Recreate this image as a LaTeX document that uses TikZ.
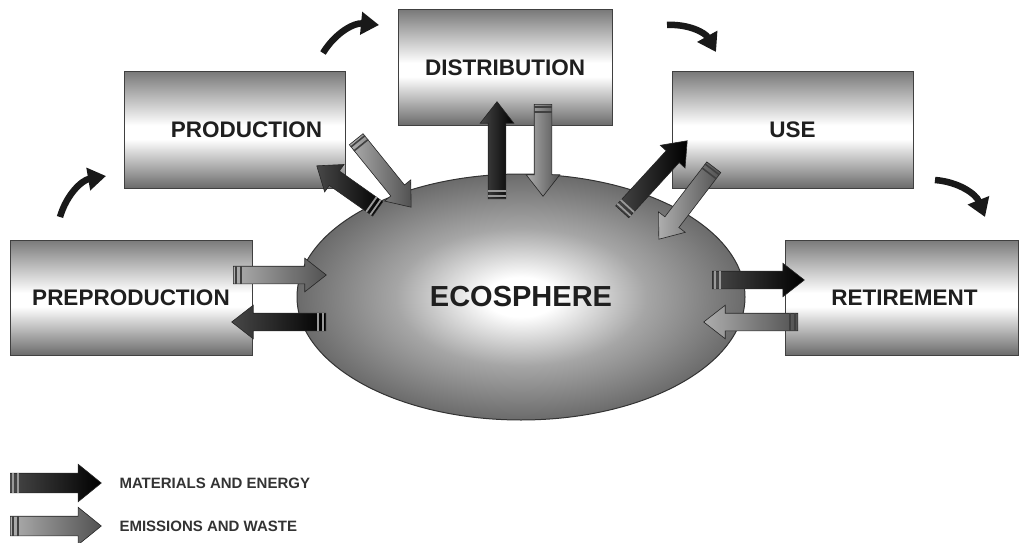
\documentclass[tikz,border=0pt]{standalone}
\usepackage{fontspec}
\setmainfont{Liberation Sans}
\usetikzlibrary{shapes.arrows,shapes.geometric,arrows.meta,calc}
\pgfdeclareverticalshading{stageshade}{100bp}{color(0bp)=(black!58); color(25bp)=(black!58); color(46bp)=(white); color(52bp)=(white); color(75bp)=(black!52); color(100bp)=(black!52)}
\pgfdeclareradialshading{ecoshade}{\pgfpoint{0bp}{0bp}}{color(0bp)=(white); color(4bp)=(white); color(14bp)=(black!35); color(25bp)=(black!58); color(50bp)=(black!58)}
\tikzset{
  stage/.style={draw=black!75, line width=1pt, shading=stageshade,
    font=\bfseries\fontsize{22.5}{26}\selectfont, text=black!88},
  flowbase/.style={single arrow, inner xsep=0pt, inner ysep=8.5pt,
    single arrow head extend=8pt, single arrow tip angle=76,
    draw=black!85, line width=0.6pt, anchor=tail},
  mat/.style={flowbase, left color=black!72, right color=black},
  emi/.style={flowbase, left color=black!32, right color=black!68},
  bigmat/.style={mat, inner ysep=9.5pt, single arrow head extend=9pt, single arrow tip angle=78},
  bigemi/.style={emi, inner ysep=9.5pt, single arrow head extend=9pt, single arrow tip angle=78},
  stripemat/.style={draw=black!40, line width=1.8pt},
  stripeemi/.style={draw=black!75, line width=1.6pt},
  stripebigmat/.style={stripemat},
  stripebigemi/.style={stripeemi},
  cycle/.style={line width=6.5pt, black!90, -{Triangle[length=18pt,width=22pt]}, bend left=32},
  legendtext/.style={anchor=west, font=\bfseries\fontsize{15}{18}\selectfont, text=black!80}
}
\newcommand\flowarrow[4]{%
  \path let \p1=($(#3)-(#2)$), \n1={atan2(\y1,\x1)}, \n2={veclen(\x1,\y1)} in
    node[#1, rotate=\n1, minimum height=\n2] (#4) at (#2) {};
  \foreach \dd in {3pt,8pt}
    \draw[stripe#1] ($(#4.before tail)!\dd!(#4.after head)$) -- ($(#4.after tail)!\dd!(#4.before head)$);
}
\begin{document}
\begin{tikzpicture}[x=1pt,y=-1pt]
\useasboundingbox (0,0) rectangle (1020,543);
% ecosphere
\node[ellipse, draw=black!80, line width=1pt, shading=ecoshade,
  minimum width=448, minimum height=246,
  font=\bfseries\fontsize{29}{33}\selectfont, text=black!88] (eco) at (521,297) {ECOSPHERE};
% stages
\node[stage, minimum width=242, minimum height=115] (pre) at (131,297.5) {PREPRODUCTION};
\node[stage, minimum width=221, minimum height=116] (pro) at (234.5,130) {\hspace*{24pt}PRODUCTION};
\node[stage, minimum width=214, minimum height=115] (dis) at (505,67.5) {DISTRIBUTION};
\node[stage, minimum width=241, minimum height=116] (use) at (792.5,130) {USE};
\node[stage, minimum width=233, minimum height=115] (ret) at (901.5,297.5) {\hspace*{6pt}RETIREMENT};
% cycle arrows
\coordinate (c1s) at (60,217);  \coordinate (c1e) at (106,176);
\coordinate (c2s) at (323,53);  \coordinate (c2e) at (379,25);
\coordinate (c3s) at (667,25);  \coordinate (c3e) at (716,52);
\coordinate (c4s) at (935,180); \coordinate (c4e) at (985,217);
\draw[cycle] (c1s) to (c1e);
\draw[cycle] (c2s) to (c2e);
\draw[cycle] (c3s) to (c3e);
\draw[cycle] (c4s) to (c4e);
% flow end points
\coordinate (preEt) at (233,275); \coordinate (preEh) at (326,275);
\coordinate (preMt) at (326,322); \coordinate (preMh) at (232,322);
\coordinate (proMt) at (378,209); \coordinate (proMh) at (317,166);
\coordinate (proEt) at (356,139); \coordinate (proEh) at (411,207);
\coordinate (disMt) at (497,199); \coordinate (disMh) at (497,102);
\coordinate (disEt) at (543,104); \coordinate (disEh) at (543,196);
\coordinate (useMt) at (622,212); \coordinate (useMh) at (687,141);
\coordinate (useEt) at (714,167); \coordinate (useEh) at (659,239);
\coordinate (retMt) at (712,280); \coordinate (retMh) at (804,280);
\coordinate (retEt) at (798,322); \coordinate (retEh) at (704,322);
\flowarrow{emi}{preEt}{preEh}{fpreE}
\flowarrow{mat}{preMt}{preMh}{fpreM}
\flowarrow{mat}{proMt}{proMh}{fproM}
\flowarrow{emi}{proEt}{proEh}{fproE}
\flowarrow{mat}{disMt}{disMh}{fdisM}
\flowarrow{emi}{disEt}{disEh}{fdisE}
\flowarrow{mat}{useMt}{useMh}{fuseM}
\flowarrow{emi}{useEt}{useEh}{fuseE}
\flowarrow{mat}{retMt}{retMh}{fretM}
\flowarrow{emi}{retEt}{retEh}{fretE}
% legend
\coordinate (lMt) at (10,483); \coordinate (lMh) at (101,483);
\coordinate (lEt) at (10,526); \coordinate (lEh) at (101,526);
\flowarrow{bigmat}{lMt}{lMh}{legM}
\flowarrow{bigemi}{lEt}{lEh}{legE}
\node[legendtext] (legMt) at (116,483) {MATERIALS AND ENERGY};
\node[legendtext] (legEt) at (116,526) {EMISSIONS AND WASTE};
\end{tikzpicture}
\end{document}
